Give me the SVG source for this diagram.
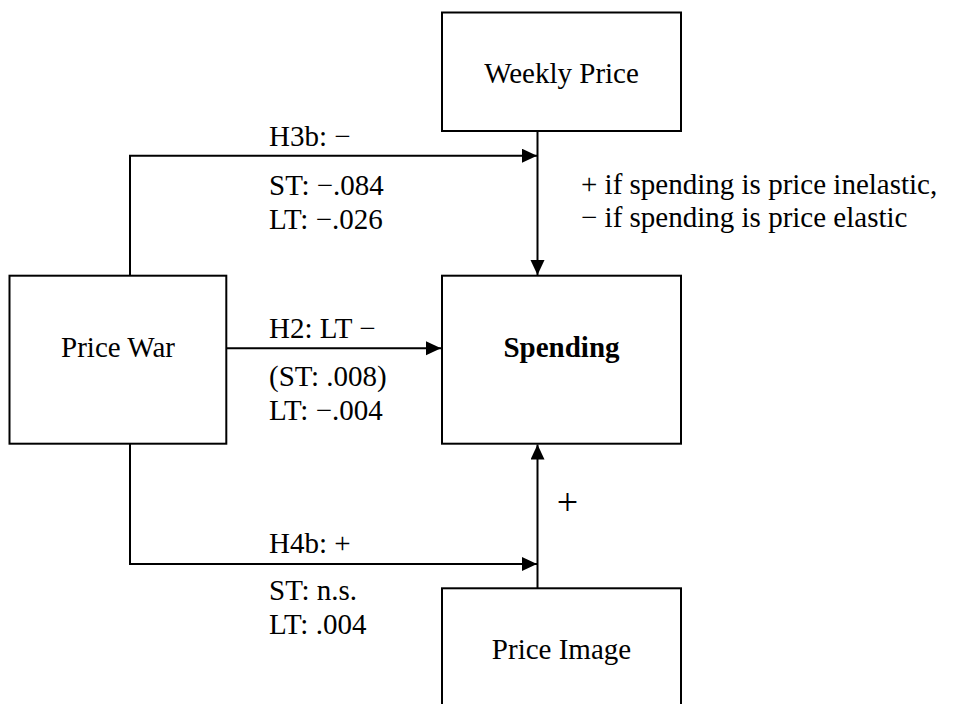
<svg xmlns="http://www.w3.org/2000/svg" width="956" height="704" viewBox="0 0 956 704">
<defs>
<style>
.box{fill:#fff;stroke:#000;stroke-width:2}
.t{font-family:"Liberation Serif","Times New Roman",serif;font-size:29px;fill:#000}
.c{text-anchor:middle}
.b{font-weight:bold}
.ln{fill:none;stroke:#000;stroke-width:2}
</style>
<marker id="arr" markerUnits="userSpaceOnUse" markerWidth="16" markerHeight="16" refX="15" refY="7" orient="auto">
<path d="M0,0 L15,7 L0,14 z" fill="#000"/>
</marker>
</defs>
<rect width="956" height="704" fill="#fff"/>
<g id="connectors">
<path class="ln" d="M130,275.7 V155.7 H537" marker-end="url(#arr)"/>
<path class="ln" d="M537.5,131 V275" marker-end="url(#arr)"/>
<path class="ln" d="M226.3,348.3 H441" marker-end="url(#arr)"/>
<path class="ln" d="M130,443.7 V564 H537" marker-end="url(#arr)"/>
<path class="ln" d="M537.5,588.3 V444.5" marker-end="url(#arr)"/>
</g>
<g id="weekly-price">
<rect class="box" x="442" y="12.5" width="239" height="118.5"/>
<text class="t c" x="561.5" y="83">Weekly Price</text>
</g>
<g id="price-war">
<rect class="box" x="9.5" y="275.7" width="216.8" height="168"/>
<text class="t c" x="118" y="357">Price War</text>
</g>
<g id="spending">
<rect class="box" x="442" y="275.7" width="239" height="168"/>
<text class="t c b" x="561.5" y="357">Spending</text>
</g>
<g id="price-image">
<rect class="box" x="442" y="588.3" width="239" height="140"/>
<text class="t c" x="561.5" y="659">Price Image</text>
</g>
<g id="labels">
<text class="t" x="269" y="146">H3b: −</text>
<text class="t" x="269" y="195">ST: −.084</text>
<text class="t" x="269" y="229">LT: −.026</text>
<text class="t" x="269" y="338">H2: LT −</text>
<text class="t" x="269" y="386">(ST: .008)</text>
<text class="t" x="269" y="420">LT: −.004</text>
<text class="t" x="269" y="553">H4b: +</text>
<text class="t" x="269" y="600">ST: n.s.</text>
<text class="t" x="269" y="634">LT: .004</text>
<text class="t" x="581" y="194">+ if spending is price inelastic,</text>
<text class="t" x="581" y="227">− if spending is price elastic</text>
<text class="t c" x="567.5" y="515" style="font-size:38px">+</text>
</g>
</svg>
